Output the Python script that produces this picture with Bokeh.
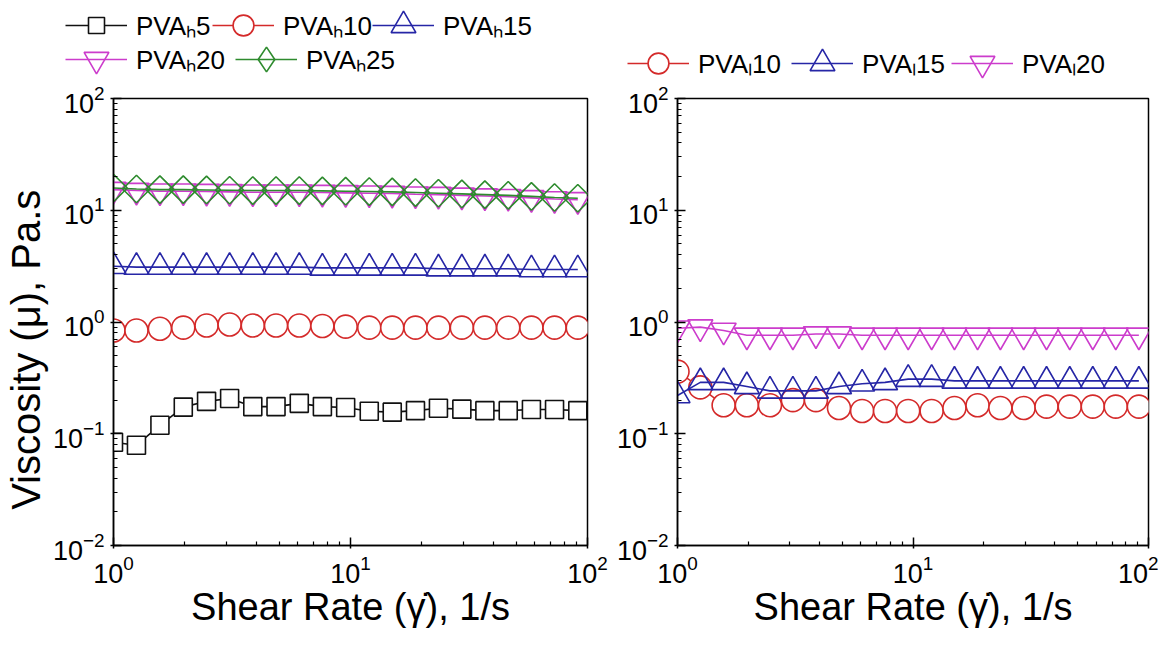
from bokeh.plotting import figure
from bokeh.models import FixedTicker, LogTickFormatter, Legend, LegendItem
from bokeh.layouts import row, column
from bokeh.embed import file_html
from bokeh.resources import INLINE

FONT = "Liberation Sans"

# ---- data ----
shear_rate = [1.0, 1.25, 1.57, 1.97, 2.47, 3.09, 3.87, 4.85, 6.08, 7.61, 9.54,
              12.0, 15.0, 18.8, 23.5, 29.5, 36.9, 46.3, 58.0, 72.6, 91.0]

pva_h5 = [0.084, 0.079, 0.119, 0.173, 0.195, 0.207, 0.175, 0.175, 0.187, 0.175,
          0.172, 0.159, 0.156, 0.161, 0.169, 0.166, 0.161, 0.161, 0.165, 0.165, 0.161]
pva_h10 = [0.84, 0.84, 0.87, 0.89, 0.93, 0.95, 0.93, 0.93, 0.93, 0.92, 0.91,
           0.89, 0.89, 0.89, 0.89, 0.89, 0.89, 0.89, 0.89, 0.89, 0.89]
pva_h15 = [3.15, 3.1, 3.1, 3.1, 3.1, 3.1, 3.1, 3.1, 3.1, 3.05, 3.05,
           3.05, 3.05, 3.05, 3.0, 3.0, 3.0, 3.0, 2.95, 2.95, 2.95]
pva_h20 = [15.3, 15.0, 14.8, 14.8, 14.7, 14.6, 14.5, 14.5, 14.5, 14.4, 14.3,
           14.2, 14.1, 13.9, 13.8, 13.6, 13.4, 13.2, 12.9, 12.6, 12.4]
pva_h25 = [15.8, 15.5, 15.3, 15.3, 15.2, 15.1, 15.0, 15.0, 15.0, 14.9, 14.8,
           14.7, 14.6, 14.4, 14.2, 14.0, 13.8, 13.6, 13.3, 13.0, 12.8]

pva_l10 = [0.36, 0.26, 0.18, 0.18, 0.18, 0.20, 0.20, 0.17, 0.16, 0.16, 0.16,
           0.16, 0.17, 0.18, 0.17, 0.17, 0.175, 0.175, 0.175, 0.175, 0.175]
pva_l15 = [0.22, 0.288, 0.288, 0.265, 0.242, 0.242, 0.242, 0.265, 0.28, 0.288, 0.308,
           0.308, 0.297, 0.297, 0.297, 0.297, 0.297, 0.297, 0.297, 0.297, 0.297]
pva_l20 = [0.88, 0.90, 0.84, 0.76, 0.76, 0.76, 0.78, 0.78, 0.76, 0.76, 0.76,
           0.76, 0.76, 0.76, 0.76, 0.76, 0.76, 0.76, 0.76, 0.76, 0.76]

x_major = [1, 10, 100]
x_minor = [2, 3, 4, 5, 6, 7, 8, 9, 20, 30, 40, 50, 60, 70, 80, 90]
y_major = [0.01, 0.1, 1, 10, 100]
y_minor = [0.02, 0.03, 0.04, 0.05, 0.06, 0.07, 0.08, 0.09,
           0.2, 0.3, 0.4, 0.5, 0.6, 0.7, 0.8, 0.9,
           2, 3, 4, 5, 6, 7, 8, 9, 20, 30, 40, 50, 60, 70, 80, 90]

BLACK = "#111111"
RED = "#d42a2a"
BLUE = "#2626a6"
MAGENTA = "#cc3ccc"
GREEN = "#2e8b2e"

# color, marker, size, filled, angle, legend marker, legend glyph height
STYLE = {
    "h5": (BLACK, "square", 18, True, 0.0, "square", 40),
    "h10": (RED, "circle", 23, True, 0.0, "circle", 52),
    "h15": (BLUE, "triangle", 25, False, 0.0, "triangle", 62),
    "h20": (MAGENTA, "inverted_triangle", 25, False, 0.0, "inverted_triangle", 62),
    "h25": (GREEN, "square", 19.5, False, 0.7853981634, "diamond", 62),
}

LEG_H = 82
TOP = 16
NB = "\u00a0"


def make_fig(fw, mbl, mbr, ylabel):
    p = figure(frame_width=fw, frame_height=447, x_axis_type="log", y_axis_type="log",
               x_range=(1, 100), y_range=(0.01, 100),
               output_backend="svg", toolbar_location=None,
               min_border_left=mbl, min_border_right=mbr,
               min_border_top=TOP, min_border_bottom=88)
    p.xgrid.visible = False
    p.ygrid.visible = False
    p.outline_line_color = "black"
    p.outline_line_width = 1.5
    p.outline_line_alpha = 1.0
    p.xaxis.ticker = FixedTicker(ticks=x_major, minor_ticks=x_minor)
    p.yaxis.ticker = FixedTicker(ticks=y_major, minor_ticks=y_minor)
    p.xaxis.formatter = LogTickFormatter()
    p.yaxis.formatter = LogTickFormatter()
    for ax in (p.xaxis[0], p.yaxis[0]):
        ax.axis_line_color = "black"
        ax.axis_line_width = 1.5
        ax.major_tick_line_color = "black"
        ax.minor_tick_line_color = "black"
        ax.major_tick_line_width = 1.5
        ax.minor_tick_line_width = 1.2
        ax.major_tick_in = 8
        ax.major_tick_out = 3
        ax.minor_tick_in = 4
        ax.minor_tick_out = 0
        ax.major_label_text_font = FONT
        ax.major_label_text_font_size = "27px"
        ax.major_label_text_color = "black"
        ax.axis_label_text_font = FONT
        ax.axis_label_text_font_style = "normal"
        ax.axis_label_text_color = "black"
    p.xaxis.major_label_standoff = 6
    p.yaxis.major_label_standoff = 6
    p.xaxis.axis_label = "Shear Rate (\u03b3\u0307), 1/s"
    p.xaxis.axis_label_text_font_size = "38px"
    p.xaxis.axis_label_standoff = 0
    if ylabel:
        p.yaxis.axis_label = ylabel
        p.yaxis.axis_label_text_font_size = "40px"
        p.yaxis.axis_label_standoff = 2
    return p


def series(p, y, key):
    color, marker, size, fill, angle, _, _ = STYLE[key]
    p.line(shear_rate, y, line_color=color, line_width=1.6)
    p.scatter(shear_rate, y, marker=marker, size=size, angle=angle,
              line_color=color, line_width=1.6,
              fill_color="white", fill_alpha=1.0 if fill else 0.0)


def legend_fig(width, entries):
    """entries: (style key, label, left x of swatch, row centre from fig bottom)"""
    lf = figure(width=width, height=LEG_H, x_range=(0, 1), y_range=(0, 1),
                x_axis_location=None, y_axis_location=None,
                output_backend="svg", toolbar_location=None, min_border=0,
                outline_line_color=None)
    lf.xgrid.visible = False
    lf.ygrid.visible = False
    for key, label, vx, cy in entries:
        color, _, _, fill, _, lmarker, gh = STYLE[key]
        # legend swatch renderers, parked outside the visible range
        ln = lf.line([5, 6], [5, 5], line_color=color, line_width=1.6)
        sc = lf.scatter([5], [5], marker=lmarker, size=10,
                        line_color=color, line_width=1.6,
                        fill_color="white", fill_alpha=1.0 if fill else 0.0)
        lg = Legend(items=[LegendItem(label=label, renderers=[ln, sc])],
                    location=(vx, cy - 8.5 - gh / 2), orientation="horizontal",
                    glyph_width=62, glyph_height=gh, label_standoff=9, spacing=0,
                    padding=0, margin=0, border_line_alpha=0, background_fill_alpha=0,
                    label_text_font=FONT, label_text_font_size="26px",
                    label_text_color="black")
        lf.add_layout(lg)
    return lf


# ---- left panel ----
p1 = make_fig(474, 104, 26, "Viscosity (\u03bc), Pa.s" + NB * 5)
for key, ys in (("h5", pva_h5), ("h10", pva_h10), ("h15", pva_h15),
                ("h20", pva_h20), ("h25", pva_h25)):
    series(p1, ys, key)

# ---- right panel ----
p2 = make_fig(471, 58, 10, None)
for key, ys in (("h10", pva_l10), ("h15", pva_l15), ("h20", pva_l20)):
    series(p2, ys, key)

leg1 = legend_fig(604, [
    ("h5", "PVA\u20955", 65, 66),
    ("h10", "PVA\u209510", 212, 66),
    ("h15", "PVA\u209515", 372, 66),
    ("h20", "PVA\u209520", 65, 32),
    ("h25", "PVA\u209525", 235, 32),
])
leg2 = legend_fig(539, [
    ("h10", "PVA\u209710", 23, 28),
    ("h15", "PVA\u209715", 187, 28),
    ("h20", "PVA\u209720", 347, 28),
])

layout = column(row(leg1, leg2), row(p1, p2))
open("out.html", "w").write(file_html(layout, INLINE))
